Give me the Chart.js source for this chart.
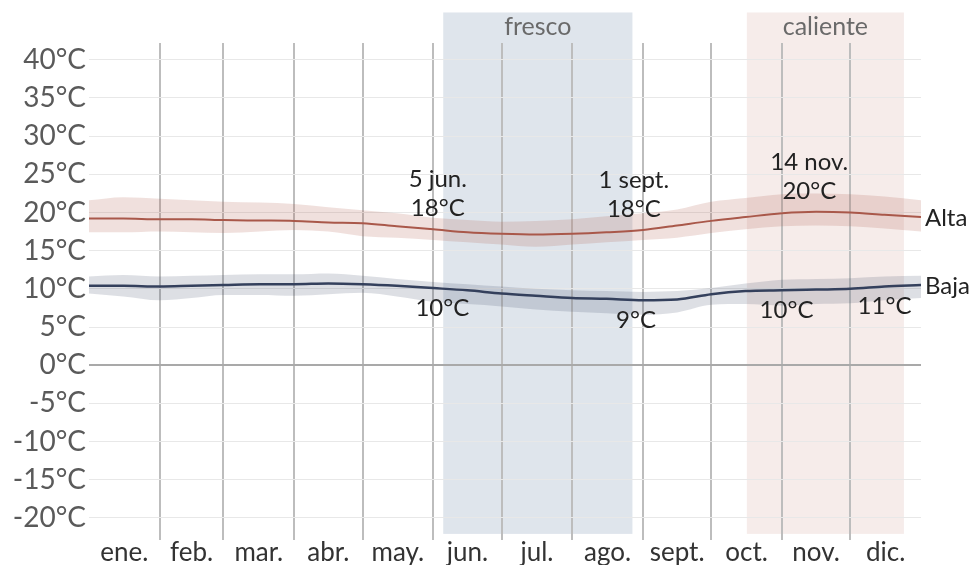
<!DOCTYPE html>
<html><head><meta charset="utf-8">
<script src="https://cdn.jsdelivr.net/npm/chart.js@4/dist/chart.umd.min.js"></script>
<style>html,body{margin:0;padding:0;background:#fff;overflow:hidden}</style>
</head><body>
<canvas id="c" width="977" height="565" style="width:977px;height:565px;display:block"></canvas>
<script>
// ---- data (day of year, °C) ----
const days      = [0,15,31,45,59,75,90,105,120,135,151,166,181,196,212,227,243,258,273,288,304,319,334,349,365];
const altaMean  = [19.2,19.2,19.1,19.1,19.0,18.95,18.9,18.7,18.6,18.2,17.8,17.4,17.2,17.1,17.2,17.4,17.7,18.3,18.9,19.4,19.9,20.1,20.0,19.7,19.4];
const altaHigh  = [21.6,22.0,21.8,21.6,21.4,21.3,21.1,20.7,20.3,19.9,19.3,19.0,18.8,18.9,19.1,19.5,19.9,20.4,21.4,21.9,22.4,22.5,22.4,22.1,21.6];
const altaLow   = [17.4,17.4,17.5,17.4,17.3,17.5,17.7,17.5,16.9,16.7,16.4,16.1,15.8,15.5,15.8,16.1,16.4,16.7,17.3,17.8,18.2,18.3,18.2,17.9,17.5];
const bajaMean  = [10.4,10.4,10.3,10.4,10.5,10.6,10.6,10.7,10.6,10.4,10.1,9.8,9.4,9.1,8.8,8.7,8.5,8.6,9.3,9.7,9.8,9.9,10.0,10.3,10.5];
const bajaHigh  = [11.6,11.8,11.6,11.7,11.8,11.9,11.9,12.0,11.7,11.3,10.9,10.6,10.3,10.0,9.8,9.7,9.6,9.7,10.1,10.7,11.2,11.3,11.4,11.6,11.7];
const bajaLow   = [9.4,9.0,8.5,8.8,9.2,9.2,9.1,9.3,9.5,9.0,8.3,8.0,7.7,7.3,7.0,6.8,6.6,6.9,7.9,8.0,7.8,8.0,8.1,8.5,8.8];

const monthLabels = ['ene.','feb.','mar.','abr.','may.','jun.','jul.','ago.','sept.','oct.','nov.','dic.'];
const monthStarts = [0,31,59,90,120,151,181,212,243,273,304,334,365];
const yTickValues = [-20,-15,-10,-5,0,5,10,15,20,25,30,35,40];

const seasonNames = ['fresco','caliente'];
const seasonStart = [155.4,288.6];
const seasonEnd   = [238.4,357.5];

const altaNoteDays  = [153,239,316];
const altaNoteDates = ['5 jun.','1 sept.','14 nov.'];
const altaNoteTemps = ['18°C','18°C','20°C'];
const bajaNoteDays  = [155,240,306,349];
const bajaNoteTemps = ['10°C','9°C','10°C','11°C'];
const seriesNames = ['Alta','Baja'];

// ---- helpers ----
const pts = arr => days.map((d,i)=>({x:d,y:arr[i]}));
function interpAt(arr, d){
  for(let i=0;i<days.length-1;i++){
    if(d>=days[i] && d<=days[i+1]){
      const t=(d-days[i])/(days[i+1]-days[i]);
      return arr[i]+(arr[i+1]-arr[i])*t;
    }
  }
  return arr[arr.length-1];
}
const FONT = 'Lato, "Open Sans", sans-serif';

const seasonPlugin = {
  id:'seasons',
  beforeDraw(chart){
    const {ctx, scales:{x,y}} = chart;
    const colors=['#dfe5ec','#f6ecea'];
    const top=y.getPixelForValue(46.2), bot=y.getPixelForValue(-22.1);
    ctx.save();
    seasonNames.forEach((n,i)=>{
      const x0=x.getPixelForValue(seasonStart[i]), x1=x.getPixelForValue(seasonEnd[i]);
      ctx.fillStyle=colors[i];
      ctx.fillRect(x0,top,x1-x0,bot-top);
      ctx.fillStyle='#6a6a6a';
      ctx.font='25px '+FONT;
      ctx.textAlign='center';ctx.textBaseline='middle';
      ctx.fillText(n,(x0+x1)/2,top+14);
    });
    ctx.restore();
  }
};

const notePlugin = {
  id:'notes',
  afterDatasetsDraw(chart){
    const {ctx, scales:{x,y}, chartArea} = chart;
    ctx.save();
    ctx.fillStyle='#222';
    ctx.font='24px '+FONT;
    ctx.textAlign='center';ctx.textBaseline='middle';
    altaNoteDays.forEach((d,i)=>{
      const px=x.getPixelForValue(d), py=y.getPixelForValue(interpAt(altaMean,d));
      ctx.fillText(altaNoteDates[i],px,py-50);
      ctx.fillText(altaNoteTemps[i],px,py-21);
    });
    bajaNoteDays.forEach((d,i)=>{
      const px=x.getPixelForValue(d), py=y.getPixelForValue(interpAt(bajaMean,d));
      ctx.fillText(bajaNoteTemps[i],px,py+20);
    });
    ctx.textAlign='left';
    const ends=[altaMean[altaMean.length-1], bajaMean[bajaMean.length-1]];
    seriesNames.forEach((n,i)=>{
      ctx.fillText(n, chartArea.right+4, y.getPixelForValue(ends[i])+1);
    });
    ctx.restore();
  }
};

const altaColor='#a9584a', bajaColor='#34405c';
const band = (data, fill, color)=>({data:pts(data), borderWidth:0, pointRadius:0, fill:fill, backgroundColor:color, cubicInterpolationMode:'monotone'});

new Chart(document.getElementById('c'), {
  type:'line',
  data:{datasets:[
    band(altaHigh,'+1','rgba(176,92,76,0.19)'),
    band(altaLow,false,'transparent'),
    {data:pts(altaMean), borderColor:altaColor, borderWidth:2, pointRadius:0, fill:false, cubicInterpolationMode:'monotone'},
    band(bajaHigh,'+1','rgba(52,64,92,0.17)'),
    band(bajaLow,false,'transparent'),
    {data:pts(bajaMean), borderColor:bajaColor, borderWidth:2.5, pointRadius:0, fill:false, cubicInterpolationMode:'monotone'}
  ]},
  options:{
    responsive:false, animation:false, events:[], devicePixelRatio:1,
    layout:{padding:{top:43,right:56,bottom:0,left:0}},
    plugins:{legend:{display:false}, tooltip:{enabled:false}, filler:{drawTime:'beforeDatasetsDraw'}},
    scales:{
      x:{type:'linear', min:0, max:365, position:'bottom',
        afterBuildTicks(s){ s.ticks = monthStarts.slice(1,-1).map(v=>({value:v})); },
        grid:{color:'#bdbdbd', lineWidth:2, drawTicks:false},
        border:{display:false},
        ticks:{display:false},
        afterFit(s){ s.height=0; }
      },
      x2:{type:'linear', min:0, max:365, position:'bottom',
        afterBuildTicks(s){ s.ticks = monthLabels.map((m,i)=>({value:(monthStarts[i]+monthStarts[i+1])/2})); },
        grid:{display:false, drawTicks:false},
        border:{display:false},
        ticks:{autoSkip:false, maxRotation:0, padding:-3, color:'#333', font:{family:FONT, size:26},
          callback:(v,i)=>monthLabels[i]},
        afterFit(s){ s.height=25; }
      },
      y:{type:'linear', min:-22.9, max:42.2,
        afterBuildTicks(s){ s.ticks = yTickValues.map(v=>({value:v})); },
        grid:{color:c=>c.tick && c.tick.value===0 ? '#a9a9a9' : '#e8e8e8',
              lineWidth:c=>c.tick && c.tick.value===0 ? 2 : 1, drawTicks:false},
        border:{display:false},
        ticks:{padding:3, color:'#5a5a5a', font:{family:FONT, size:28}, callback:v=>v+'°C'},
        afterFit(s){ s.width=89; }
      }
    }
  },
  plugins:[seasonPlugin, notePlugin]
});
</script>
</body></html>
